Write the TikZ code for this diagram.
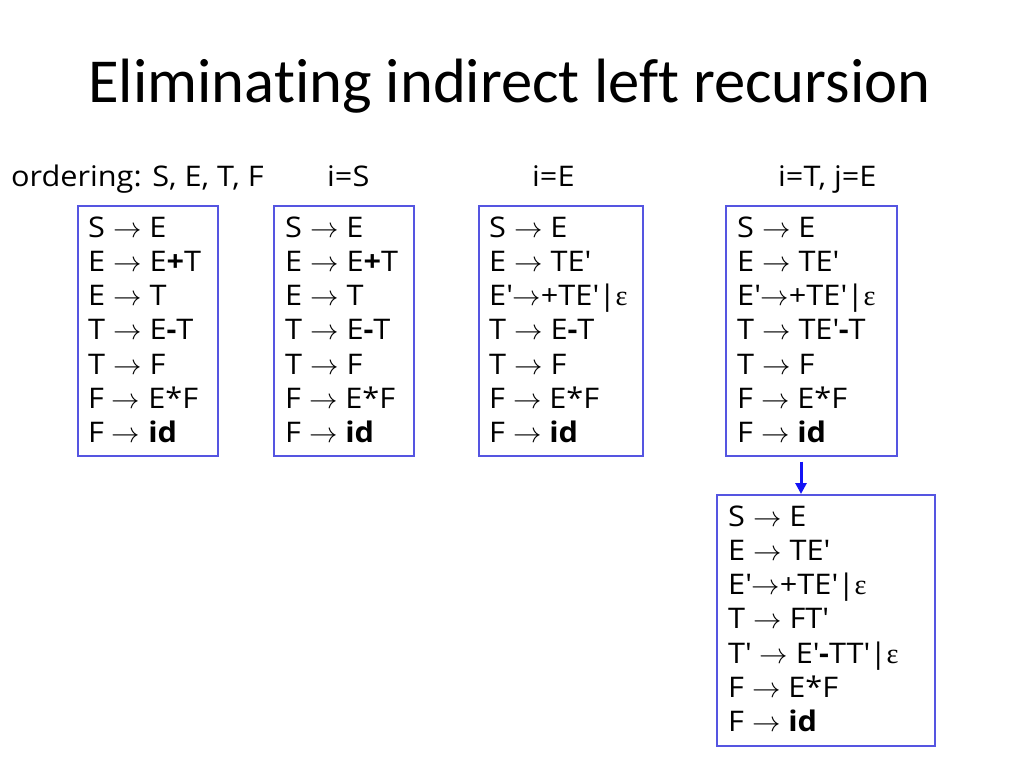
\RequirePackage{fix-cm}
\documentclass[tikz,border=0pt]{standalone}
\usepackage{fontspec}
\setmainfont[FakeStretch=1.08]{Open Sans}
\newfontfamily\titlefont[Ligatures=NoCommon]{Carlito}
\newfontfamily\symfont{Liberation Serif}
\usetikzlibrary{arrows.meta,calc}
\definecolor{boxblue}{RGB}{85,85,225}
\definecolor{arrblue}{RGB}{20,20,245}
\newcommand\ap{\textquotesingle}
\newcommand\eps{{\symfont ε}}
\newcommand\ar{$\rightarrow$}
\begin{document}
\begin{tikzpicture}[x=1pt,y=-1pt,
  txt/.style={anchor=base west,inner sep=0pt,font=\fontsize{28.4}{34}\selectfont},
  lbl/.style={anchor=base west,inner sep=0pt,font=\fontsize{28.4}{34}\selectfont},
  gbox/.style={draw=boxblue,line width=1.5pt,inner sep=0pt,anchor=north west}]
\useasboundingbox (0,0) rectangle (1024,768);
\fill[white] (0,0) rectangle (1024,768);
\node[anchor=base west,inner sep=0pt,font=\titlefont\fontsize{62.6}{70}\selectfont] (title) at (88,102) {Eliminating indirect left recursion};
\node[lbl] (ord) at (11,186) {ordering: S, E, T, F};
\node[lbl] (l2) at (327,186) {i=S};
\node[lbl] (l3) at (532,186) {i=E};
\node[lbl] (l4) at (778,186) {i=T, j=E};
% boxes
\node[gbox,minimum width=140pt,minimum height=250pt] (b1) at (77,205) {};
\node[gbox,minimum width=140pt,minimum height=250pt] (b2) at (273,205) {};
\node[gbox,minimum width=164pt,minimum height=250pt] (b3) at (478,205) {};
\node[gbox,minimum width=171pt,minimum height=250pt] (b4) at (725,205) {};
\node[gbox,minimum width=218pt,minimum height=251pt] (b5) at (716,494) {};
% box 1
\foreach \t [count=\i from 0] in {S \ar{} E, E \ar{} E\textbf{+}T, E \ar{} T, T \ar{} E\textbf{-}T, T \ar{} F, F \ar{} E*F, F \ar{} \textbf{id}}
  \node[txt] (a\i) at (88,237+34.3*\i) {\t};
% box 2
\foreach \t [count=\i from 0] in {S \ar{} E, E \ar{} E\textbf{+}T, E \ar{} T, T \ar{} E\textbf{-}T, T \ar{} F, F \ar{} E*F, F \ar{} \textbf{id}}
  \node[txt] (c\i) at (285,237+34.3*\i) {\t};
% box 3
\foreach \t [count=\i from 0] in {S \ar{} E, E \ar{} TE\ap, E\ap\ar+TE\ap|\eps, T \ar{} E\textbf{-}T, T \ar{} F, F \ar{} E*F, F \ar{} \textbf{id}}
  \node[txt] (d\i) at (489,237+34.3*\i) {\t};
% box 4
\foreach \t [count=\i from 0] in {S \ar{} E, E \ar{} TE\ap, E\ap\ar+TE\ap|\eps, T \ar{} TE\ap\textbf{-}T, T \ar{} F, F \ar{} E*F, F \ar{} \textbf{id}}
  \node[txt] (e\i) at (737,237+34.3*\i) {\t};
% box 5
\foreach \t [count=\i from 0] in {S \ar{} E, E \ar{} TE\ap, E\ap\ar+TE\ap|\eps, T \ar{} FT\ap, T\ap\ \ar{} E\ap\textbf{-}TT\ap|\eps, F \ar{} E*F, F \ar{} \textbf{id}}
  \node[txt] (f\i) at (728,526+34.3*\i) {\t};
% arrow
\coordinate (as) at ($(b4.south west)+(76,5)$);
\draw[arrblue,line width=3pt,-{Triangle[width=11pt,length=11pt]}] (as) -- (as |- b5.north);
\end{tikzpicture}
\end{document}
